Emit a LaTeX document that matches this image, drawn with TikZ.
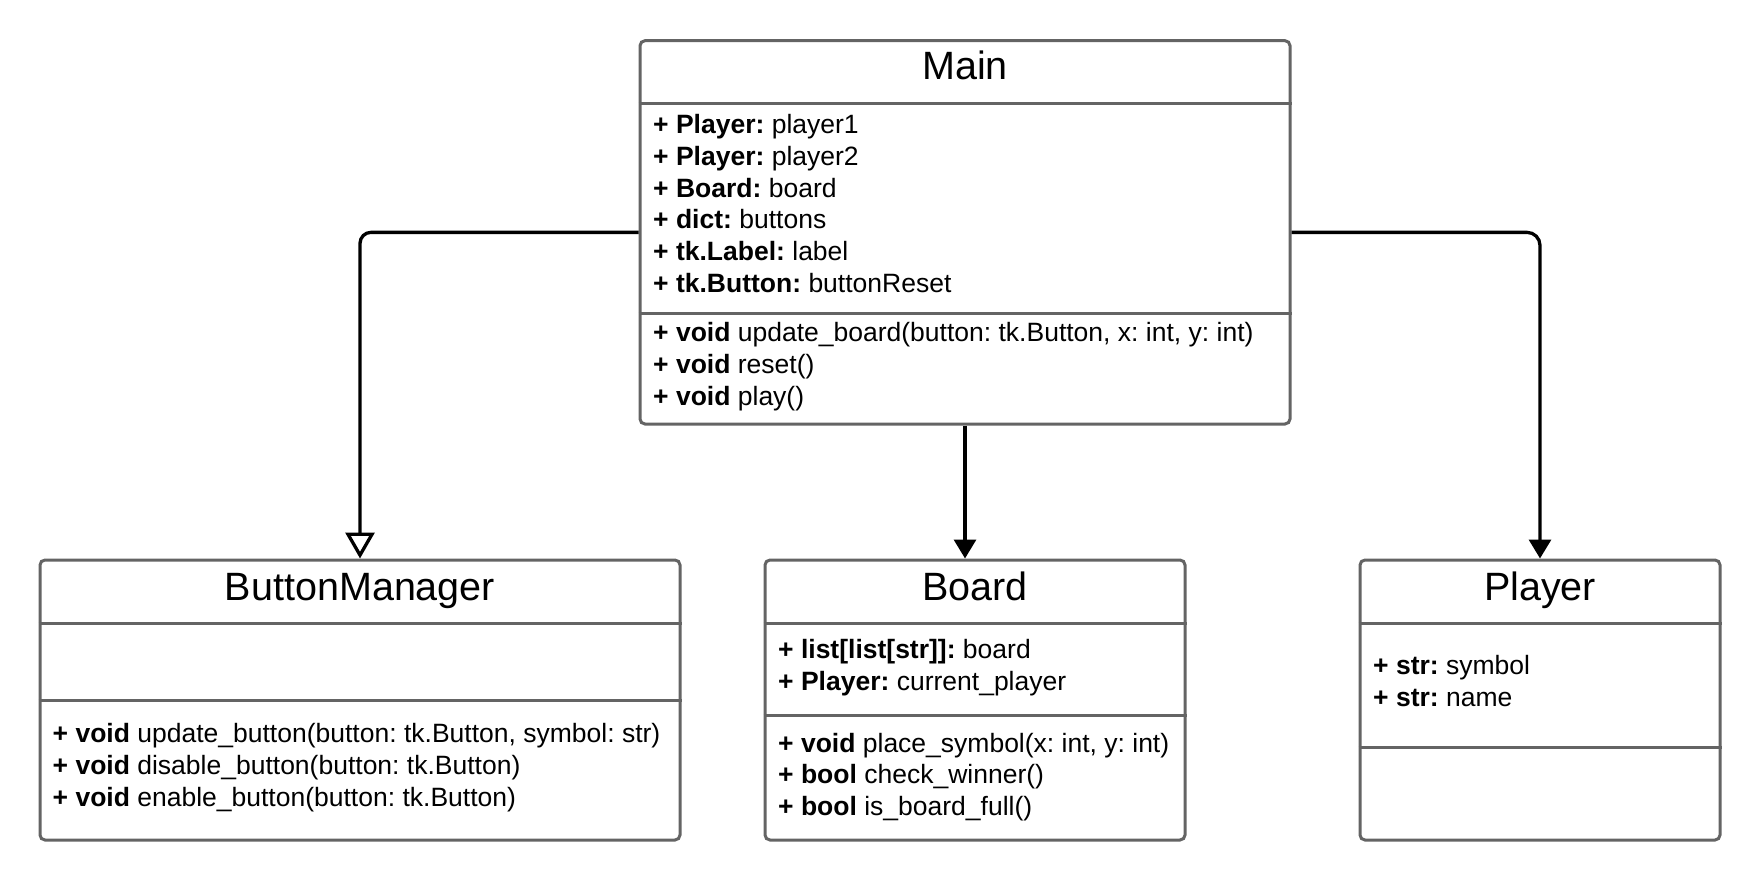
\documentclass[tikz,border=0pt]{standalone}
\usepackage{fontspec}
\setmainfont{Liberation Sans}
\usetikzlibrary{arrows.meta}
\definecolor{boxgray}{HTML}{646464}
\frenchspacing
\begin{document}
\begin{tikzpicture}[x=1pt,y=-1pt,
  umlbox/.style={draw=boxgray, line width=3pt, rounded corners=5pt, fill=white, inner sep=0pt},
  sepline/.style={draw=boxgray, line width=3pt},
  titletext/.style={font=\fontsize{39.5}{44}\selectfont, anchor=base, inner sep=0pt},
  member/.style={font=\fontsize{26.5}{32}\selectfont\frenchspacing, anchor=base west, inner sep=0pt},
  conn/.style={draw=black, line width=3.3pt},
  filledtip/.style={-{Triangle[length=19pt,width=22pt]}},
  opentip/.style={-{Triangle[open,fill=white,length=26pt,width=29pt]}}
]
\useasboundingbox[fill=white] (0,0) rectangle (1760,880);

% boxes
\node[umlbox, minimum width=650pt, minimum height=383.3pt] (main) at (965,232.35) {};
\node[umlbox, minimum width=640pt, minimum height=280pt] (bm) at (360,700) {};
\node[umlbox, minimum width=420pt, minimum height=280pt] (board) at (975,700) {};
\node[umlbox, minimum width=360pt, minimum height=280pt] (pl) at (1540,700) {};

% compartment lines
\draw[sepline] (main.west |- 0,104) -- (main.east |- 0,104);
\draw[sepline] (main.west |- 0,313) -- (main.east |- 0,313);
\draw[sepline] (bm.west |- 0,623.5) -- (bm.east |- 0,623.5);
\draw[sepline] (bm.west |- 0,700) -- (bm.east |- 0,700);
\draw[sepline] (board.west |- 0,623.5) -- (board.east |- 0,623.5);
\draw[sepline] (board.west |- 0,715) -- (board.east |- 0,715);
\draw[sepline] (pl.west |- 0,623.5) -- (pl.east |- 0,623.5);
\draw[sepline] (pl.west |- 0,747.5) -- (pl.east |- 0,747.5);

% titles
\node[titletext] (mainT) at (965,80) {Main};
\node[titletext] (bmT) at (360,600) {ButtonManager};
\node[titletext] (boardT) at (975,600) {Board};
\node[titletext] (plT) at (1540,600) {Player};

% Main members
\node[member] (ma1) at (653,133.5) {\textbf{+ Player:} player1};
\node[member] (ma2) at (653,165.3) {\textbf{+ Player:} player2};
\node[member] (ma3) at (653,197.1) {\textbf{+ Board:} board};
\node[member] (ma4) at (653,228.9) {\textbf{+ dict:} buttons};
\node[member] (ma5) at (653,260.7) {\textbf{+ tk.Label:} label};
\node[member] (ma6) at (653,292.5) {\textbf{+ tk.Button:} buttonReset};
\node[member] (mm1) at (653,341.5) {\textbf{+ void} update\_board(button: tk.Button, x: int, y: int)};
\node[member] (mm2) at (653,373.3) {\textbf{+ void} reset()};
\node[member] (mm3) at (653,405.1) {\textbf{+ void} play()};

% ButtonManager members
\node[member] (bm1) at (52.5,742) {\textbf{+ void} update\_button(button: tk.Button, symbol: str)};
\node[member] (bm2) at (52.5,774) {\textbf{+ void} disable\_button(button: tk.Button)};
\node[member] (bm3) at (52.5,806) {\textbf{+ void} enable\_button(button: tk.Button)};

% Board members
\node[member] (ba1) at (778,658.5) {\textbf{+ list[list[str]]:} board};
\node[member] (ba2) at (778,690.3) {\textbf{+ Player:} current\_player};
\node[member] (bo1) at (778,752) {\textbf{+ void} place\_symbol(x: int, y: int)};
\node[member] (bo2) at (778,783.8) {\textbf{+ bool} check\_winner()};
\node[member] (bo3) at (778,815.6) {\textbf{+ bool} is\_board\_full()};

% Player members
\node[member] (pa1) at (1373,674) {\textbf{+ str:} symbol};
\node[member] (pa2) at (1373,706) {\textbf{+ str:} name};

% connectors
\draw[conn, opentip, rounded corners=11pt] (main.west) -| (bm.north);
\draw[conn, filledtip] (main.south) -- (main.south |- board.north);
\draw[conn, filledtip, rounded corners=13pt] (main.east) -| (pl.north);
\end{tikzpicture}
\end{document}
